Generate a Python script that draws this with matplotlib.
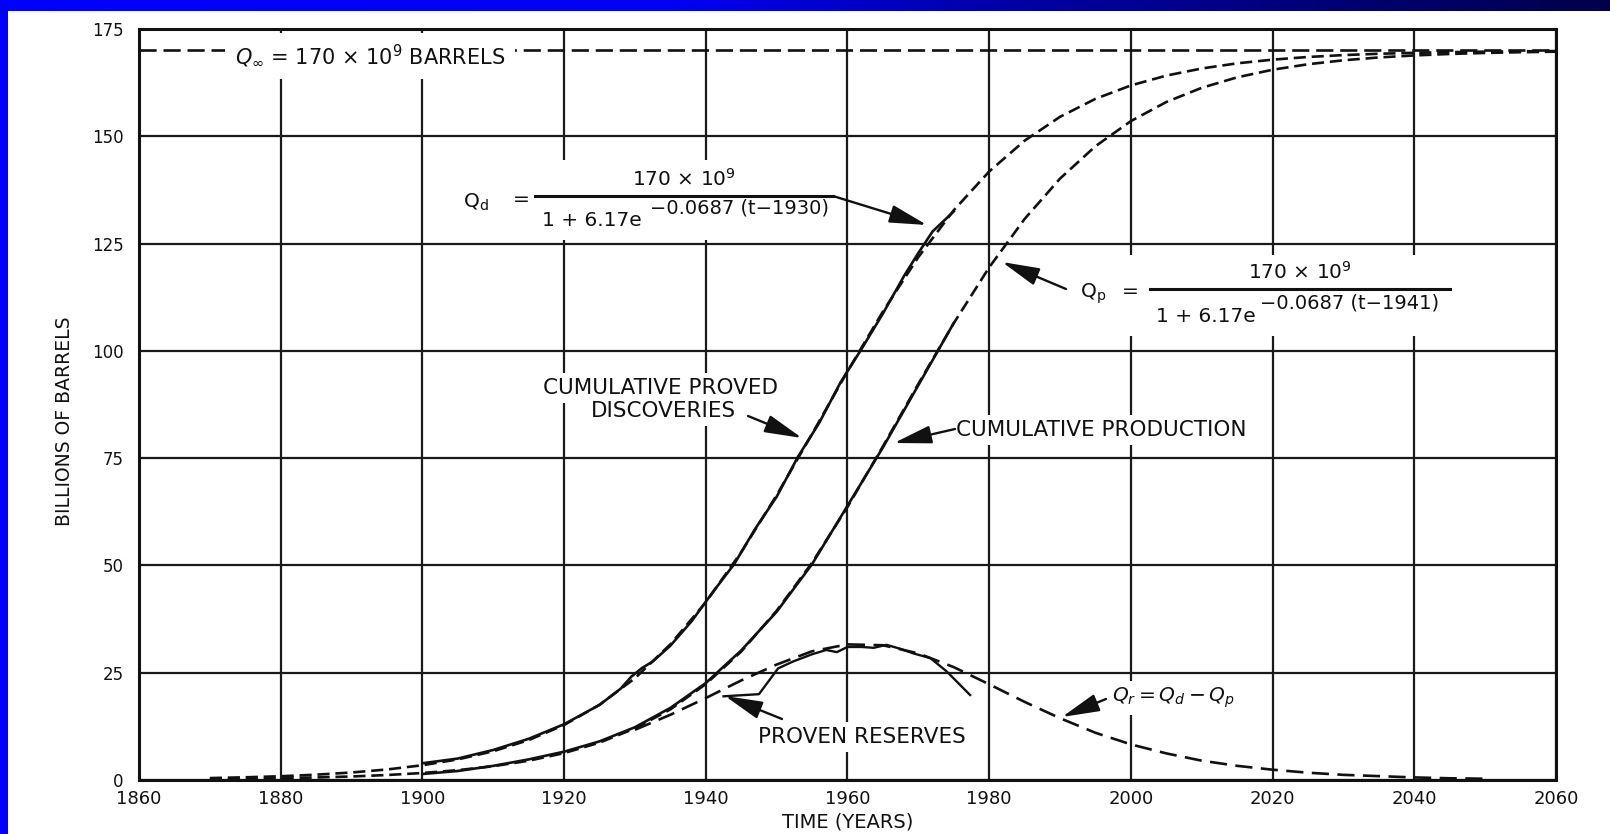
import numpy as np
import matplotlib
matplotlib.use("Agg")
import matplotlib.pyplot as plt
from matplotlib.patches import Rectangle
from matplotlib.lines import Line2D
from matplotlib.colors import LinearSegmentedColormap

plt.rcParams['font.family'] = ['DejaVu Sans']
plt.rcParams['mathtext.fontset'] = 'dejavusans'

# --- data ---
q_inf = 170
inf_years = [1860, 2060]

fit_years = [1870, 1875, 1880, 1885, 1890, 1895, 1900, 1905, 1910, 1915, 1920, 1925,
             1930, 1935, 1940, 1945, 1950, 1955, 1960, 1965, 1970, 1975, 1980, 1985,
             1990, 1995, 2000, 2005, 2010, 2015, 2020, 2025, 2030, 2035, 2040, 2045,
             2050, 2055, 2060]
qd_fit = [0.45, 0.63, 0.88, 1.24, 1.75, 2.45, 3.44, 4.80, 6.70, 9.30, 12.82, 17.53,
          23.71, 31.62, 41.42, 53.09, 66.36, 80.66, 95.21, 109.17, 121.85, 132.77, 141.80, 148.98,
          154.54, 158.73, 161.85, 164.14, 165.80, 167.00, 167.86, 168.48, 168.92, 169.23, 169.45, 169.61,
          169.72, 169.80, 169.86]
qp_fit = [0.21, 0.30, 0.42, 0.59, 0.82, 1.16, 1.63, 2.29, 3.21, 4.49, 6.27, 8.71,
          12.02, 16.46, 22.35, 29.93, 39.44, 50.63, 63.63, 77.75, 92.31, 106.45, 119.46, 130.74,
          140.15, 147.69, 153.54, 157.99, 161.30, 163.74, 165.51, 166.79, 167.71, 168.37, 168.84, 169.18,
          169.42, 169.59, 169.71]

qr_years = [1930, 1935, 1940, 1945, 1950, 1955, 1960, 1965, 1970, 1975, 1980, 1985, 1990,
            1995, 2000, 2005, 2010, 2015, 2020, 2025, 2030, 2035, 2040, 2045, 2050]
qr_fit = [11.7, 15.2, 19.1, 23.2, 26.9, 30.0, 31.6, 31.4, 29.5, 26.3, 22.3, 18.2, 14.4,
          11.0, 8.3, 6.2, 4.5, 3.3, 2.4, 1.7, 1.2, 0.9, 0.6, 0.4, 0.3]

disc_years = [1900, 1905, 1910, 1915, 1920, 1925, 1928, 1929.5, 1931, 1932.5, 1935, 1938,
              1941, 1944, 1947, 1950, 1953, 1956, 1959, 1962, 1965, 1968, 1970, 1972, 1975]
disc_data = [3.9, 5.0, 7.0, 9.6, 13.0, 17.5, 21.3, 24.1, 26.1, 27.6, 31.3, 37.0,
             43.8, 50.3, 58.6, 66.0, 75.3, 83.2, 92.6, 100.5, 108.7, 117.5, 122.8, 127.8, 132.5]

prod_years = [1900, 1905, 1910, 1915, 1920, 1925, 1930, 1935, 1940, 1945, 1950, 1955,
              1960, 1965, 1970, 1975]
prod_data = [1.4, 2.1, 3.3, 4.8, 6.6, 9.0, 12.3, 16.8, 22.6, 30.2, 39.2, 50.3,
             63.9, 77.5, 92.0, 106.5]

res_years = [1942.5, 1947.5, 1950.2, 1952.3, 1955, 1957, 1958.5, 1960, 1962, 1963.7,
             1965.5, 1967.4, 1969.3, 1971.7, 1974, 1977.3]
res_data = [19.5, 20.0, 26.0, 27.6, 29.3, 30.3, 29.8, 31.0, 31.0, 30.8,
            31.5, 30.6, 29.5, 28.4, 25.3, 19.8]

# --- figure / slide frame ---
W, H = 1610, 834
fig = plt.figure(figsize=(W / 100, H / 100), dpi=100)
fig.patch.set_facecolor('white')

band = fig.add_axes([0, 1 - 11 / H, 1, 11 / H])
band.axis('off')
cmap = LinearSegmentedColormap.from_list(
    'band', [(0, '#0000ff'), (0.42, '#0000f2'), (0.62, '#0000a8'), (1, '#00004a')])
band.imshow(np.linspace(0, 1, 256)[None, :], aspect='auto', cmap=cmap, extent=[0, 1, 0, 1])
fig.add_artist(Rectangle((0, 0), 8 / W, 1, transform=fig.transFigure, fc='#0000ff', ec='none'))

L, R, T, B = 139, 1556, 29, 780
ax = fig.add_axes([L / W, 1 - B / H, (R - L) / W, (B - T) / H])


def px(x, y):
    # pixel position in the picture -> data coordinates
    return (1860 + (x - L) / (R - L) * 200, (B - y) / (B - T) * 175)


def white_box(x0, y0, x1, y1):
    ax.add_patch(Rectangle((x0 / W, 1 - y1 / H), (x1 - x0) / W, (y1 - y0) / H,
                           transform=fig.transFigure, fc='white', ec='none', zorder=2))


ink = '#111111'
lw = 1.9

# --- curves ---
ax.plot(inf_years, [q_inf, q_inf], color=ink, lw=lw, dashes=(6.5, 2.6), zorder=3)
ax.plot(fit_years, qd_fit, color=ink, lw=lw, dashes=(4.6, 2.2), zorder=3)
ax.plot(fit_years, qp_fit, color=ink, lw=lw, dashes=(4.6, 2.2), zorder=3)
ax.plot(qr_years, qr_fit, color=ink, lw=lw, dashes=(6.5, 3.2), zorder=3)
ax.plot(disc_years, disc_data, color=ink, lw=lw, zorder=3, solid_joinstyle='round')
ax.plot(prod_years, prod_data, color=ink, lw=lw, zorder=3, solid_joinstyle='round')
ax.plot(res_years, res_data, color=ink, lw=1.7, zorder=3, solid_joinstyle='round')

# --- axes ---
ax.set_xlim(1860, 2060)
ax.set_ylim(0, 175)
ax.set_xticks(range(1860, 2061, 20))
ax.set_yticks(range(0, 176, 25))
ax.tick_params(axis='x', length=0, pad=7, labelsize=13, labelcolor=ink)
ax.tick_params(axis='y', length=0, pad=11, labelsize=12, labelcolor=ink)
ax.grid(True, color='#1a1a1a', lw=1.6)
ax.set_axisbelow(True)
for s in ax.spines.values():
    s.set_linewidth(2.2)
    s.set_color(ink)

ax.set_xlabel('TIME (YEARS)', fontsize=14, color=ink, va='center')
ax.xaxis.set_label_coords(0.5, (B - 822) / (B - T))
ax.set_ylabel('BILLIONS OF BARRELS', fontsize=13.5, color=ink, va='center', ha='center')
ax.yaxis.set_label_coords((64 - L) / (R - L), (B - 421) / (B - T))

# --- annotations ---
arrow = dict(arrowstyle='-|>,head_length=2.3,head_width=0.55', mutation_scale=10,
             lw=1.7, color=ink, shrinkA=0, shrinkB=0)
box = dict(boxstyle='square,pad=0.25', fc='white', ec='none')
fs_lab = 15.5
fs_eq = 14.5

ax.text(*px(370, 56), r'$Q_\infty$ = 170 × 10$^9$ BARRELS', fontsize=15, color=ink,
        ha='center', va='center', zorder=5,
        bbox=dict(boxstyle='square,pad=0.45', fc='white', ec='none'))

# Qd formula
white_box(452, 160, 842, 240)
ax.text(*px(476, 202), r'Q$_\mathregular{d}$', fontsize=fs_eq, color=ink, ha='center', va='center', zorder=5)
ax.text(*px(521, 200), '=', fontsize=fs_eq, color=ink, ha='center', va='center', zorder=5)
ax.add_line(Line2D([px(535, 196)[0], px(833, 196)[0]], [px(535, 196)[1]] * 2,
                   color=ink, lw=2.2, zorder=5))
ax.text(*px(684, 179), '170 × 10$^9$', fontsize=fs_eq, color=ink, ha='center', va='center', zorder=5)
ax.text(*px(592, 221), '1 + 6.17e', fontsize=fs_eq, color=ink, ha='center', va='center', zorder=5)
ax.text(*px(740, 208), '−0.0687 (t−1930)', fontsize=14, color=ink, ha='center', va='center', zorder=5)
ax.annotate('', xy=px(927, 225), xytext=px(833, 196), arrowprops=arrow, zorder=5)

# Qp formula
white_box(1058, 255, 1460, 336)
ax.text(*px(1093, 294), r'Q$_\mathregular{p}$', fontsize=fs_eq, color=ink, ha='center', va='center', zorder=5)
ax.text(*px(1130, 292), '=', fontsize=fs_eq, color=ink, ha='center', va='center', zorder=5)
ax.add_line(Line2D([px(1150, 289)[0], px(1450, 289)[0]], [px(1150, 289)[1]] * 2,
                   color=ink, lw=2.2, zorder=5))
ax.text(*px(1300, 272), '170 × 10$^9$', fontsize=fs_eq, color=ink, ha='center', va='center', zorder=5)
ax.text(*px(1206, 316), '1 + 6.17e', fontsize=fs_eq, color=ink, ha='center', va='center', zorder=5)
ax.text(*px(1350, 303), '−0.0687 (t−1941)', fontsize=14, color=ink, ha='center', va='center', zorder=5)
ax.annotate('', xy=px(1002, 262), xytext=px(1066, 289), arrowprops=arrow, zorder=5)

# curve labels
ax.text(*px(661, 388), 'CUMULATIVE PROVED', fontsize=fs_lab, color=ink, ha='center', va='center',
        zorder=5, bbox=box)
ax.text(*px(663, 411), 'DISCOVERIES', fontsize=fs_lab, color=ink, ha='center', va='center',
        zorder=5, bbox=box)
ax.annotate('', xy=px(802, 438), xytext=px(748, 416), arrowprops=arrow, zorder=5)

ax.text(*px(956, 430), 'CUMULATIVE PRODUCTION', fontsize=fs_lab, color=ink, ha='left', va='center',
        zorder=5, bbox=box)
ax.annotate('', xy=px(894, 443), xytext=px(955, 429), arrowprops=arrow, zorder=5)

ax.text(*px(862, 737), 'PROVEN RESERVES', fontsize=fs_lab, color=ink, ha='center', va='center',
        zorder=5, bbox=box)
ax.annotate('', xy=px(725, 696), xytext=px(782, 719), arrowprops=arrow, zorder=5)

ax.text(*px(1174, 698), r'$Q_r = Q_d - Q_p$', fontsize=14.5, color=ink, ha='center', va='center',
        zorder=5, bbox=box)
ax.annotate('', xy=px(1062, 717), xytext=px(1106, 699), arrowprops=arrow, zorder=5)

fig.savefig('out.png', dpi=100, facecolor='white')
